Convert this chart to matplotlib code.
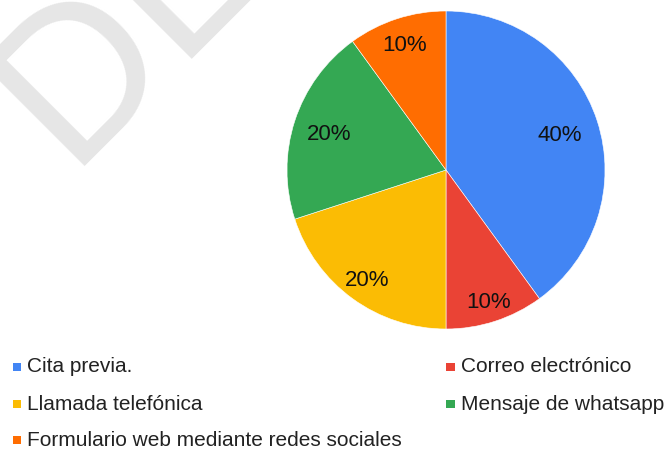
import matplotlib
matplotlib.use("Agg")
import matplotlib.pyplot as plt
from matplotlib.patches import Rectangle
import numpy as np

# Data
categories = [
    "Cita previa.",
    "Correo electrónico",
    "Llamada telefónica",
    "Mensaje de whatsapp",
    "Formulario web mediante redes sociales",
]
shares = [40, 10, 20, 20, 10]
colors = ["#4285F4", "#EA4335", "#FBBC04", "#34A853", "#FF6D01"]
label_radius = [0.75, 0.86, 0.84, 0.77, 0.84]

W, H = 666, 451
fig = plt.figure(figsize=(W / 100, H / 100), dpi=100)
fig.patch.set_facecolor("white")

# Faint background watermark
fig.text(68 / W, 1 - 166 / H, "DE", rotation=45, rotation_mode="anchor",
         ha="left", va="baseline", fontsize=152, color="#e6e6e6",
         family="Liberation Sans", zorder=0)

# Pie axes: centre (446, 170) px, radius 159 px
cx, cy, r = 446, 170, 159
ax = fig.add_axes([(cx - r) / W, (H - cy - r) / H, 2 * r / W, 2 * r / H])
wedges, _ = ax.pie(shares, colors=colors, startangle=90, counterclock=False,
                   radius=1, wedgeprops=dict(edgecolor="white", linewidth=0.4))
ax.set_xlim(-1, 1)
ax.set_ylim(-1, 1)
ax.set_aspect("equal")
ax.axis("off")

total = sum(shares)
for w, val, lr in zip(wedges, shares, label_radius):
    mid = np.deg2rad((w.theta1 + w.theta2) / 2)
    ax.text(lr * np.cos(mid), lr * np.sin(mid), f"{round(100 * val / total)}%",
            ha="center", va="center_baseline", fontsize=16, color="#111111",
            family="Liberation Sans")

# Legend laid out in two columns, row by row
col_x = [12.5, 446]
row_y = [367, 404, 440]
sq = 8.5
for i, (lab, c) in enumerate(zip(categories, colors)):
    x0 = col_x[i % 2]
    y0 = row_y[i // 2]
    fig.patches.append(Rectangle(((x0) / W, (H - y0 - sq / 2) / H), sq / W, sq / H,
                                 transform=fig.transFigure, facecolor=c,
                                 edgecolor="none"))
    fig.text((x0 + sq + 6) / W, (H - y0) / H, lab, ha="left", va="center",
             fontsize=15, color="#222222", family="Liberation Sans")

fig.savefig("out.png", dpi=100, facecolor="white")
